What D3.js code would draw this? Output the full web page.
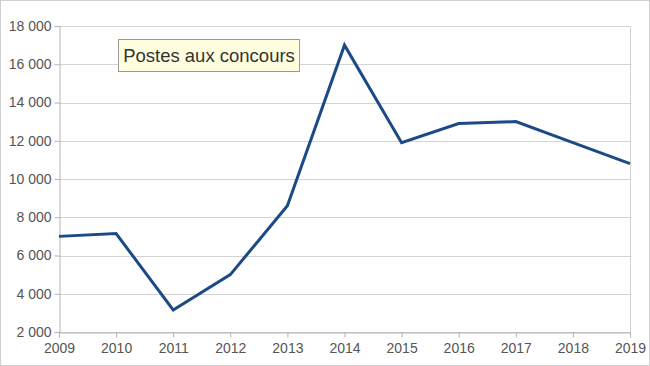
<!DOCTYPE html>
<html><head><meta charset="utf-8">
<script src="https://cdn.jsdelivr.net/npm/d3@7"></script>
<style>body{margin:0;background:#fff}svg{display:block}</style>
</head><body><svg id="c" width="650" height="366"></svg>
<script>
const years = [2009,2010,2011,2012,2013,2014,2015,2016,2017,2018,2019];
const postes = [7000,7150,3150,5000,8600,17000,11900,12900,13000,11900,10800];
const yTicks = [2000,4000,6000,8000,10000,12000,14000,16000,18000];
const title = "Postes aux concours";

const svg = d3.select("#c");
svg.append("rect").attr("x",0.5).attr("y",0.5).attr("width",649).attr("height",365)
  .attr("fill","#fff").attr("stroke","#d0d0d0");
const L=59, R=630, T=26, B=332;
const x = d3.scaleLinear().domain([2009,2019]).range([L,R]);
const y = d3.scaleLinear().domain([2000,18000]).range([B,T]);
const fmt = v => d3.format(",")(v).replace(/,/g," ");
const ff = "Liberation Sans, Arial, sans-serif";

svg.append("g").selectAll("line").data(yTicks).join("line")
  .attr("x1",L).attr("x2",R).attr("y1",d=>Math.round(y(d))+0.5).attr("y2",d=>Math.round(y(d))+0.5)
  .attr("stroke","#d4d4d4").attr("stroke-width",1);

const ya = svg.append("g").attr("transform",`translate(${L+0.5},0)`)
  .call(d3.axisLeft(y).tickValues(yTicks).tickFormat(fmt).tickSize(5).tickPadding(3));
ya.select(".domain").attr("stroke","#b3b3b3");
ya.selectAll(".tick line").attr("stroke","#b3b3b3");
ya.selectAll(".tick text").attr("font-family",ff).attr("font-size",14).attr("fill","#555");

const xa = svg.append("g").attr("transform",`translate(0,${B+0.5})`)
  .call(d3.axisBottom(x).tickValues(years).tickFormat(d3.format("d")).tickSize(5).tickPadding(6));
xa.select(".domain").attr("stroke","#b3b3b3");
xa.selectAll(".tick line").attr("stroke","#b3b3b3");
xa.selectAll(".tick text").attr("font-family",ff).attr("font-size",14).attr("fill","#555");

svg.append("line").attr("x1",R+0.5).attr("x2",R+0.5).attr("y1",T).attr("y2",B).attr("stroke","#d4d4d4");

svg.append("path").datum(years.map((d,i)=>[d,postes[i]]))
  .attr("d",d3.line().x(d=>x(d[0])).y(d=>y(d[1])))
  .attr("fill","none").attr("stroke","#1c4a87").attr("stroke-width",3).attr("stroke-linejoin","miter");

svg.append("rect").attr("x",118.5).attr("y",39.5).attr("width",181).attr("height",32)
  .attr("fill","#ffffe0").attr("stroke","#999");
svg.append("text").attr("x",209).attr("y",62).attr("text-anchor","middle")
  .attr("font-family",ff).attr("font-size",18.5).attr("fill","#333")
  .text(title);
</script></body></html>
